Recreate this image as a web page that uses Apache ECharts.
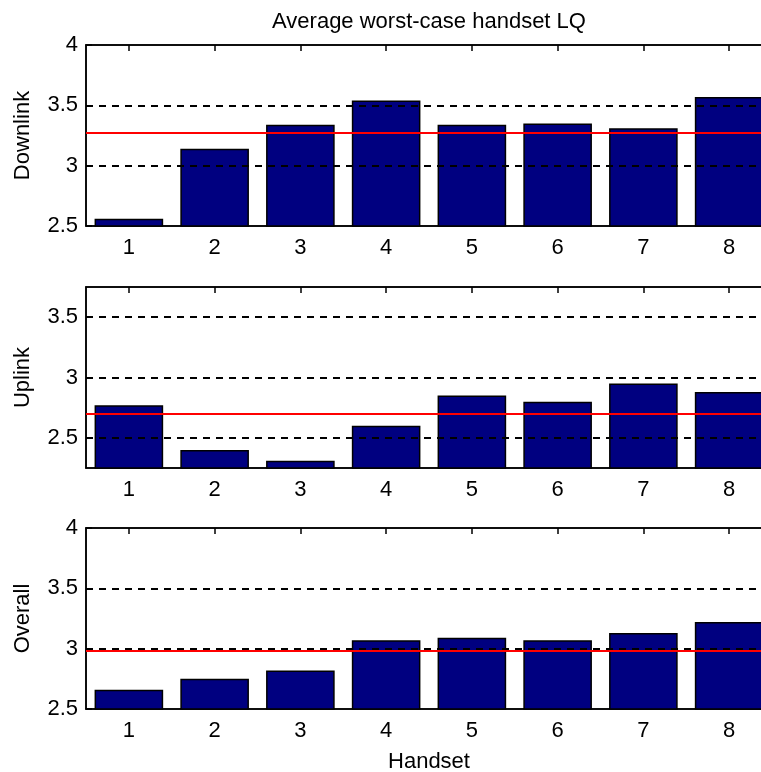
<!DOCTYPE html>
<html>
<head>
<meta charset="utf-8">
<script src="https://cdn.jsdelivr.net/npm/echarts@6/dist/echarts.min.js"></script>
<style>
html,body{margin:0;padding:0;background:#fff;}
#chart{width:761px;height:772px;}
</style>
</head>
<body>
<div id="chart"></div>
<script>
// ---- data ----
const handsets = ['1','2','3','4','5','6','7','8'];
const downlink = [2.56, 3.14, 3.34, 3.54, 3.34, 3.35, 3.31, 3.57];
const uplink   = [2.77, 2.40, 2.31, 2.60, 2.85, 2.80, 2.95, 2.88];
const overall  = [2.66, 2.75, 2.82, 3.07, 3.09, 3.07, 3.13, 3.22];
const meanLines = [3.27, 2.70, 2.98];          // red reference lines
const yRanges = [[2.5, 4], [2.25, 3.75], [2.5, 4]];
const yTicks = [[2.5, 3, 3.5, 4], [2.5, 3, 3.5], [2.5, 3, 3.5, 4]];
const yNames = ['Downlink', 'Uplink', 'Overall'];
const titleText = 'Average worst-case handset LQ';
const xName = 'Handset';

const FONT = 'Liberation Sans, Arial, sans-serif';
const panels = [downlink, uplink, overall];
const gridTops = [45, 287, 528];

const grids = [], xAxes = [], yAxes = [], series = [];
panels.forEach((vals, i) => {
  grids.push({
    left: 86, top: gridTops[i], width: 686, height: 181,
    containLabel: false, outerBoundsMode: 'none',
    show: true, borderColor: '#000', borderWidth: 1.5, backgroundColor: 'transparent'
  });
  // bottom category axis with labels
  xAxes.push({
    type: 'category', data: handsets, gridIndex: i, position: 'bottom',
    boundaryGap: true,
    axisLine: {show: true, lineStyle: {color: '#000', width: 1.5}},
    axisTick: {show: true, inside: true, alignWithLabel: true, length: 6, lineStyle: {color: '#000', width: 1.5}},
    axisLabel: {show: true, color: '#000', fontSize: 22, fontFamily: FONT, margin: 11},
    splitLine: {show: false},
    name: i === 2 ? xName : '',
    nameLocation: 'middle', nameGap: 42,
    nameTextStyle: {color: '#000', fontSize: 22, fontFamily: FONT}
  });
  // top axis for MATLAB-style box ticks
  xAxes.push({
    type: 'category', data: handsets, gridIndex: i, position: 'top',
    boundaryGap: true,
    axisLine: {show: true, lineStyle: {color: '#000', width: 1.5}},
    axisTick: {show: true, inside: true, alignWithLabel: true, length: 6, lineStyle: {color: '#000', width: 1.5}},
    axisLabel: {show: false},
    splitLine: {show: false}
  });
  yAxes.push({
    type: 'value', gridIndex: i, min: yRanges[i][0], max: yRanges[i][1],
    axisLine: {show: true, lineStyle: {color: '#000', width: 1.5}},
    axisTick: {show: true, inside: true, length: 6, customValues: yTicks[i], lineStyle: {color: '#000', width: 1.5}},
    axisLabel: {show: true, color: '#000', fontSize: 22, fontFamily: FONT, margin: 8, customValues: yTicks[i]},
    splitLine: {show: false},
    name: yNames[i], nameLocation: 'middle', nameRotate: 90, nameGap: 52,
    nameTextStyle: {color: '#000', fontSize: 22, fontFamily: FONT}
  });
  // dashed horizontal grid lines (behind bars)
  series.push({
    type: 'line', xAxisIndex: 2 * i, yAxisIndex: i, data: [], z: 1, silent: true,
    markLine: {
      silent: true, symbol: 'none', animation: false,
      label: {show: false},
      lineStyle: {color: '#000', width: 1.8, type: [7, 6]},
      data: yTicks[i].filter(v => v > yRanges[i][0] && v < yRanges[i][1]).map(v => ({yAxis: v}))
    }
  });
  series.push({
    type: 'bar', xAxisIndex: 2 * i, yAxisIndex: i, data: vals, z: 2,
    barWidth: '80%', animation: false,
    itemStyle: {color: '#000080', borderColor: '#000', borderWidth: 1.5}
  });
  // red mean line (on top)
  series.push({
    type: 'line', xAxisIndex: 2 * i, yAxisIndex: i, data: [], z: 5, silent: true,
    markLine: {
      silent: true, symbol: 'none', animation: false,
      label: {show: false},
      lineStyle: {color: '#ff0000', width: 2, type: 'solid'},
      data: [{yAxis: meanLines[i]}]
    }
  });
});

const chart = echarts.init(document.getElementById('chart'), null, {renderer: 'canvas'});
chart.setOption({
  animation: false,
  backgroundColor: '#fff',
  title: {
    text: titleText, left: 424, top: 6, textAlign: 'center',
    textStyle: {color: '#000', fontSize: 22, fontWeight: 'normal', fontFamily: FONT}
  },
  grid: grids, xAxis: xAxes, yAxis: yAxes, series: series
});
</script>
</body>
</html>
